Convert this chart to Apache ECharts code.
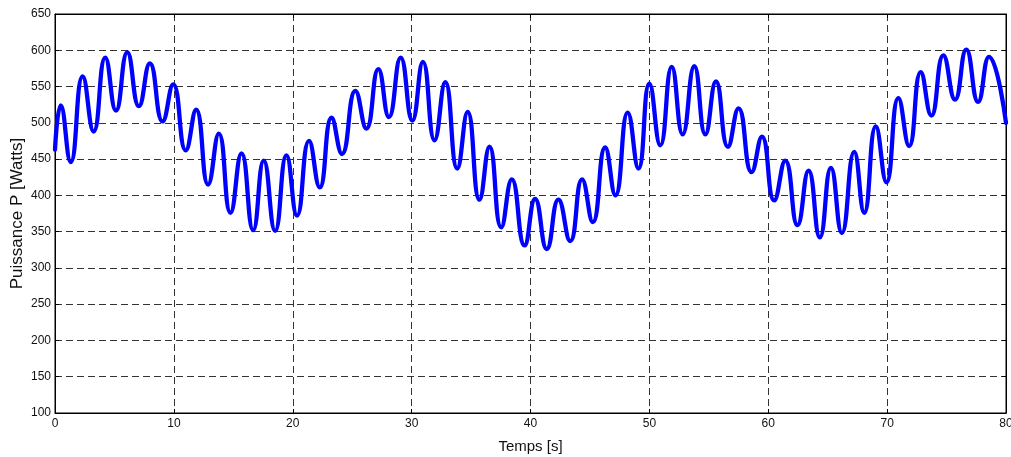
<!DOCTYPE html>
<html>
<head>
<meta charset="utf-8">
<script src="https://cdn.jsdelivr.net/npm/echarts@6/dist/echarts.min.js"></script>
<style>html,body{margin:0;padding:0;background:#fff;}#c{width:1011px;height:457px;}</style>
</head>
<body>
<div id="c"></div>
<script>
var times = [0, 0.48, 1.32, 2.33, 3.25, 4.23, 5.13, 6.08, 7.06, 7.98, 9.05, 9.94, 11.0, 11.87, 12.88, 13.78, 14.76, 15.69, 16.67, 17.56, 18.52, 19.47, 20.36, 21.37, 22.27, 23.27, 24.14, 25.27, 26.19, 27.2, 28.09, 29.08, 30.06, 30.95, 31.93, 32.83, 33.84, 34.71, 35.71, 36.55, 37.54, 38.43, 39.5, 40.39, 41.37, 42.35, 43.34, 44.34, 45.24, 46.28, 47.14, 48.18, 49.08, 50.0, 50.92, 51.88, 52.8, 53.78, 54.71, 55.6, 56.61, 57.5, 58.6, 59.47, 60.5, 61.43, 62.46, 63.39, 64.34, 65.27, 66.19, 67.23, 68.07, 69.05, 69.94, 70.95, 71.85, 72.83, 73.72, 74.73, 75.71, 76.66, 77.65, 78.57, 80];
var power = [463, 524, 446, 564, 488, 590, 517, 597, 523, 582, 502, 553, 462, 518, 415, 485, 376, 458, 352, 448, 351, 455, 372, 475, 411, 507, 457, 544, 492, 574, 508, 590, 503, 584, 476, 556, 437, 515, 394, 467, 356, 422, 331, 395, 326, 394, 337, 422, 363, 466, 400, 514, 437, 554, 469, 577, 484, 578, 484, 557, 467, 520, 432, 481, 393, 448, 359, 434, 342, 438, 348, 460, 376, 495, 418, 534, 468, 570, 510, 593, 532, 601, 529, 591, 500];
var xTicks = {min: 0, max: 80, interval: 10};
var yTicks = {min: 100, max: 650, interval: 50};
var xName = 'Temps [s]';
var yName = 'Puissance P [Watts]';

var data = times.map(function (t, i) { return [t, power[i]]; });
var font = 'Liberation Sans, Arial, sans-serif';
var gridLine = {show: true, lineStyle: {color: '#333', type: [7, 4], width: 1}};
var chart = echarts.init(document.getElementById('c'));
chart.setOption({
  animation: false,
  backgroundColor: '#fff',
  grid: {left: 55, right: 5, top: 14, bottom: 44, outerBoundsMode: 'none', containLabel: false, show: true, borderColor: '#000', borderWidth: 1, backgroundColor: 'transparent'},
  xAxis: [{
    type: 'value', min: xTicks.min, max: xTicks.max, interval: xTicks.interval,
    name: xName, nameLocation: 'middle', nameGap: 26,
    nameTextStyle: {color: '#111', fontSize: 15, fontFamily: font},
    axisLine: {show: true, onZero: false, lineStyle: {color: '#000', width: 1}},
    axisTick: {show: true, inside: true, length: 4, lineStyle: {color: '#000'}},
    axisLabel: {color: '#111', fontSize: 12, fontFamily: font, margin: 5},
    splitLine: gridLine
  }, {
    type: 'value', position: 'top', min: xTicks.min, max: xTicks.max, interval: xTicks.interval,
    axisLine: {show: true, onZero: false, lineStyle: {color: '#000'}},
    axisTick: {show: true, inside: true, length: 4, lineStyle: {color: '#000'}},
    axisLabel: {show: false}, splitLine: {show: false}
  }],
  yAxis: [{
    type: 'value', min: yTicks.min, max: yTicks.max, interval: yTicks.interval,
    name: yName, nameLocation: 'middle', nameGap: 29, nameRotate: 90, nameMoveOverlap: false,
    nameTextStyle: {color: '#111', fontSize: 17, fontFamily: font},
    axisLine: {show: true, onZero: false, lineStyle: {color: '#000', width: 1}},
    axisTick: {show: true, inside: true, length: 4, lineStyle: {color: '#000'}},
    axisLabel: {color: '#111', fontSize: 12, fontFamily: font, margin: 4},
    splitLine: gridLine
  }, {
    type: 'value', position: 'right', min: yTicks.min, max: yTicks.max, interval: yTicks.interval,
    axisLine: {show: true, onZero: false, lineStyle: {color: '#000'}},
    axisTick: {show: true, inside: true, length: 4, lineStyle: {color: '#000'}},
    axisLabel: {show: false}, splitLine: {show: false}
  }],
  series: [{
    type: 'line', data: data, xAxisIndex: 0, yAxisIndex: 0,
    smooth: 0.5, showSymbol: false, symbol: 'none',
    lineStyle: {color: '#0000ff', width: 4.3, cap: 'round', join: 'round'},
    clip: false
  }]
});
</script>
</body>
</html>
